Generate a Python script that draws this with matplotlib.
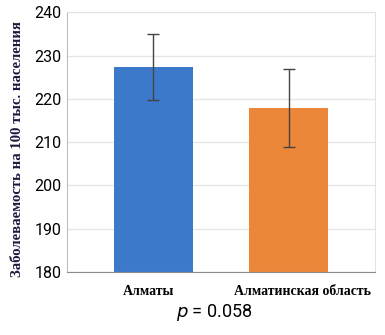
import matplotlib
matplotlib.use("Agg")
import matplotlib.pyplot as plt
from matplotlib.transforms import ScaledTranslation

categories = ["Алматы", "Алматинская область"]
means = [227.4, 218.0]
errors = [7.6, 9.0]
bar_colors = ["#3D79CB", "#EC873A"]
yticks = [180, 190, 200, 210, 220, 230, 240]
ylabel = "Заболеваемость на 100 тыс. населения"
ptext = "$p$ = 0.058"

fig = plt.figure(figsize=(3.85, 3.35), dpi=100)
ax = fig.add_axes([0.174, 0.188, 0.800, 0.775])

x = list(range(len(categories)))
ax.bar(x, means, width=0.59, color=bar_colors, zorder=2,
       yerr=errors, error_kw=dict(ecolor="#444444", elinewidth=1.0, capsize=4, capthick=1.0))
ax.set_xlim(-0.64, 1.64)
ax.set_ylim(180, 240)
ax.set_yticks(yticks)
ax.set_yticklabels([str(t) for t in yticks], fontfamily="Roboto", fontsize=11.5)
ax.set_xticks(x)
ax.set_xticklabels(categories, fontfamily="Liberation Serif", fontweight="bold", fontsize=10)
ax.tick_params(axis="both", length=0)
ax.tick_params(axis="y", pad=4)
ax.tick_params(axis="x", pad=9)
shifts = [-4.5, 14.0]
for lbl, s in zip(ax.get_xticklabels(), shifts):
    lbl.set_transform(lbl.get_transform() + ScaledTranslation(s / 100, 0, fig.dpi_scale_trans))
ax.grid(axis="y", color="#E6E6E6", linewidth=1.0, zorder=0)
for side in ["top", "right"]:
    ax.spines[side].set_color("#E3E3E3")
ax.spines["left"].set_color("#BDBDBD")
ax.spines["bottom"].set_color("#8C8C8C")
ax.spines["bottom"].set_zorder(3)

fig.text(0.046, 0.555, ylabel, rotation=90, ha="center", va="center",
         fontfamily="Liberation Serif", fontweight="bold", fontsize=10.6, color="#1A1A40")
fig.text(0.556, 0.066, ptext, ha="center", va="center", fontfamily="Roboto", fontsize=13)

fig.savefig("out.png", dpi=100)
